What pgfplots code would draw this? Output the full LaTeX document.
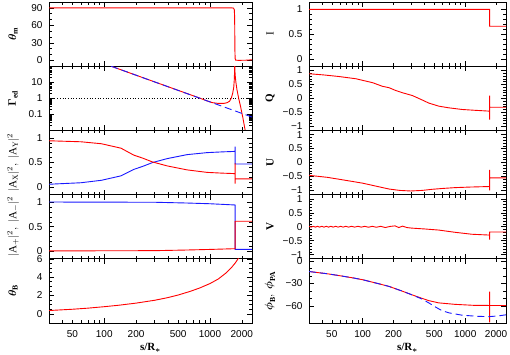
\documentclass[border=0pt]{standalone}
\usepackage{amsmath,amsbsy}
\usepackage{fontspec}
\setmainfont{Liberation Serif}
\newfontfamily\ticksf{Liberation Sans}
\usepackage{pgfplots}
\pgfplotsset{compat=1.18}
\definecolor{pred}{rgb}{1,0,0}
\definecolor{pblue}{rgb}{0.1,0.1,1}
\pgfplotsset{
 bxpanel/.style={scale only axis, height=64.2pt, xmin=30, xmax=2500,
   xtick={100,1000}, xticklabels={}, extra x ticks={50,200,500,2000}, extra x tick labels={},
   extra x tick style={major tick length=3pt},
   minor xtick={30,40,60,70,80,90,300,400,600,700,800,900},
   major tick length=5pt, minor tick length=3pt,
   tick style={black, line width=0.5pt},
   axis line style={line width=0.8pt},
   tick label style={font=\ticksf\fontsize{10}{10}\selectfont},
   yticklabel style={xshift=-3pt},
   xticklabel style={yshift=-4pt},
   label style={font=\fontsize{11}{11}\selectfont},
   anchor=north west,
 },
 bxleft/.style={bxpanel, width=203pt, ylabel style={at={(axis description cs:-0.177,0.5)},anchor=center}},
 bxright/.style={bxpanel, width=197pt, ylabel style={at={(axis description cs:-0.198,0.5)},anchor=center}},
 bxbottom/.style={xticklabels={100,1000}, extra x tick labels={50,200,500,2000},
   xlabel={\textbf{s/R}$_{\boldsymbol{*}}$}, xlabel style={at={(axis description cs:0.5,0)}, anchor=center, yshift=-25pt}},
 bxunit/.style={ymin=-0.15, ymax=1.15, ytick={0,0.5,1}, yticklabels={0,0.5,1}, minor y tick num=4},
 bxstokes/.style={ymin=-1.15, ymax=1.15, ytick={-1,-0.5,0,0.5,1}, yticklabels={−1,−0.5,0,0.5,1}, minor y tick num=4},
}
\begin{document}
\begin{tikzpicture}
% ---------------- LEFT COLUMN ----------------
\begin{axis}[xmode=log, bxleft, at={(49pt,-2pt)}, ymin=-10, ymax=100, ytick={0,30,60,90}, yticklabels={0,30,60,90}, minor y tick num=2,
  ylabel={$\boldsymbol{\theta}_{\mathbf{m}}$}]
\addplot[pred, line width=0.9pt] coordinates {(30,90)(1600,90)(1670,89.5)(1700,87)(1712,75)(1718,45)(1724,15)(1732,3)(1750,0.5)(1850,0)(2200,0.3)(2500,1)};
\end{axis}

\begin{axis}[xmode=log, ymode=log, bxleft, at={(49pt,-66.2pt)}, ymin=0.01, ymax=100, ytick={0.1,1,10}, yticklabels={0.1,1,10},
  minor ytick={0.02,0.03,0.04,0.05,0.06,0.07,0.08,0.09,0.2,0.3,0.4,0.5,0.6,0.7,0.8,0.9,2,3,4,5,6,7,8,9,20,30,40,50,60,70,80,90},
  ylabel={$\boldsymbol{\Gamma}_{\mathbf{ed}}$}]
\addplot[black, dotted, line width=0.7pt] coordinates {(30,1)(2500,1)};
\addplot[pred, line width=0.9pt] coordinates {(116,100)(300,10.5)(600,2.04)(800,1.03)(950,0.67)(1050,0.54)(1200,0.48)(1350,0.48)(1450,0.53)(1530,0.65)(1590,1.0)(1640,2)(1680,5)(1700,15)(1710,50)(1716,150)(1722,60)(1735,25)(1760,10)(1800,3.5)(1870,1)(1950,0.3)(2050,0.06)(2130,0.015)(2200,0.005)};
\addplot[pblue, line width=0.9pt, dash pattern=on 7pt off 4pt] coordinates {(116,100)(2500,0.068)};
\end{axis}

\begin{axis}[xmode=log, bxleft, bxunit, at={(49pt,-130.4pt)},
  ylabel={$|\mathrm{A}_{\mathrm{X}}|^2,\ |\mathrm{A}_{\mathrm{Y}}|^2$}]
\addplot[pblue, line width=0.9pt] coordinates {(30,0.06)(60,0.09)(94,0.14)(144,0.23)(190,0.36)(230,0.42)(287,0.50)(396,0.58)(610,0.66)(937,0.70)(1300,0.715)(1730,0.725)(1731,0.82)(1732,0.47)(2500,0.47)};
\addplot[pred, line width=0.9pt] coordinates {(30,0.94)(60,0.92)(94,0.88)(144,0.79)(190,0.65)(230,0.59)(287,0.51)(396,0.43)(610,0.35)(937,0.30)(1300,0.285)(1730,0.275)(1731,0.48)(1732,0.07)(1733,0.17)(2500,0.17)};
\end{axis}

\begin{axis}[xmode=log, bxleft, bxunit, at={(49pt,-194.6pt)},
  ylabel={$|\mathrm{A}_{+}|^2,\ |\mathrm{A}_{-}|^2$}]
\addplot[pblue, line width=0.9pt] coordinates {(30,1.0)(300,0.995)(600,0.98)(1000,0.965)(1730,0.94)(1731,0.04)(2500,0.04)};
\addplot[pred, line width=0.9pt] coordinates {(30,0.01)(300,0.015)(600,0.028)(1000,0.04)(1730,0.055)(1731,0.61)(2500,0.61)};
\end{axis}

\begin{axis}[xmode=log, bxleft, bxbottom, at={(49pt,-258.8pt)}, ymin=-1, ymax=6, ytick={0,2,4,6}, yticklabels={0,2,4,6}, minor y tick num=3,
  ylabel={$\boldsymbol{\theta}_{\mathbf{B}}$}]
\addplot[pred, line width=0.9pt] coordinates {(30,0.36)(40,0.44)(50,0.5)(70,0.62)(100,0.78)(140,0.95)(200,1.17)(300,1.48)(400,1.77)(500,2.05)(650,2.45)(800,2.82)(1000,3.3)(1200,3.8)(1400,4.4)(1600,5.05)(1750,5.6)(1870,6.1)};
\end{axis}

% ---------------- RIGHT COLUMN ----------------
\begin{axis}[xmode=log, bxright, bxunit, at={(309pt,-2pt)}, ylabel={I}]
\addplot[pred, line width=0.9pt] coordinates {(30,1)(1730,1)(1731,0.66)(2500,0.66)};
\end{axis}

\begin{axis}[xmode=log, bxright, bxstokes, at={(309pt,-66.2pt)}, ylabel={\textbf{Q}}]
\addplot[pred, line width=0.9pt] coordinates {(30,0.88)(41,0.84)(59,0.78)(86,0.70)(125,0.56)(156,0.43)(181,0.38)(210,0.28)(244,0.20)(305,0.10)(381,-0.06)(441,-0.17)(552,-0.28)(689,-0.34)(929,-0.40)(1250,-0.43)(1730,-0.46)(1731,0.1)(1732,-0.76)(1733,-0.32)(2500,-0.32)};
\end{axis}

\begin{axis}[xmode=log, bxright, bxstokes, at={(309pt,-130.4pt)}, ylabel={\textbf{U}}]
\addplot[pred, line width=0.9pt] coordinates {(30,-0.46)(45,-0.53)(59,-0.6)(80,-0.68)(100,-0.74)(140,-0.86)(181,-0.95)(230,-1.0)(294,-1.02)(380,-1.0)(476,-0.96)(600,-0.93)(795,-0.9)(1100,-0.88)(1730,-0.86)(1731,-0.26)(1732,-1.0)(1733,-0.55)(2500,-0.55)};
\end{axis}

\begin{axis}[xmode=log, bxright, bxstokes, at={(309pt,-194.6pt)}, ylabel={\textbf{V}}]
\addplot[pred, line width=0.9pt] coordinates {(30,0.015)(31.5,-0.015)(33,0.015)(34.6,-0.015)(36.3,0.015)(38,-0.015)(40,0.015)(42,-0.015)(44.2,0.015)(46.5,-0.015)(49,0.015)(51.6,-0.015)(54.5,0.015)(57.6,-0.015)(61,0.015)(64.5,-0.015)(68.5,0.015)(73,-0.015)(78,0.015)(83.5,-0.015)(90,0.015)(97,-0.015)(105,0.015)(114,-0.02)(124,0.015)(136,-0.02)(150,0.015)(166,-0.03)(185,0.01)(207,0.03)(225,-0.03)(245,0.02)(270,-0.03)(300,-0.05)(400,-0.08)(552,-0.12)(795,-0.2)(1160,-0.27)(1730,-0.3)(1731,-0.46)(1732,-0.19)(2500,-0.19)};
\end{axis}

\begin{axis}[xmode=log, bxright, bxbottom, at={(309pt,-258.8pt)}, ymin=-83, ymax=3, ytick={-60,-30,0}, yticklabels={−60,−30,0}, minor y tick num=2,
  ylabel={$\boldsymbol{\phi}_{\mathbf{B}},\ \boldsymbol{\phi}_{\mathbf{PA}}$}]
\addplot[pred, line width=0.9pt] coordinates {(30,-14)(45,-17)(59,-19.5)(80,-22.5)(100,-25)(140,-30)(181,-34)(240,-40)(305,-45.4)(380,-50)(441,-53)(550,-56)(795,-58)(1200,-59.3)(1730,-59.5)(1731,-41)(1732,-82)(1733,-59.5)(2500,-59.5)};
\addplot[pblue, line width=0.9pt, dash pattern=on 7pt off 4pt] coordinates {(30,-14)(45,-17)(59,-19.5)(80,-22.5)(100,-25)(140,-30)(181,-34)(240,-40)(305,-45.4)(380,-51)(441,-56)(520,-62)(594,-66.5)(700,-69.5)(929,-72.5)(1300,-74)(1700,-74.5)(2100,-73.5)(2500,-72)};
\end{axis}

\pgfresetboundingbox
\path[use as bounding box] (0,0) rectangle (510pt,-354pt);
\end{tikzpicture}
\end{document}
